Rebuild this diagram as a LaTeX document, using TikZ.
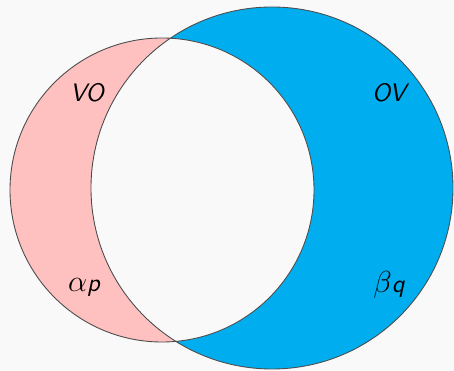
\documentclass[tikz,border=0pt]{standalone}
\usepackage{tikz}

\definecolor{pagebg}{HTML}{F9F9F9}
\definecolor{leftset}{HTML}{FFC0C0}
\definecolor{rightset}{HTML}{00AEEF}

\newcommand{\bigsym}[1]{{\fontsize{17.28}{20}\selectfont$#1$}}

\begin{document}
\begin{tikzpicture}[
  x=0.02cm, y=-0.02cm,
  setline/.style={draw=black!70, line width=0.5pt},
  setname/.style={anchor=base, inner sep=0pt,
    font=\fontsize{14.4}{17}\selectfont\sffamily\itshape}
]
\useasboundingbox (0,0) rectangle (454,371);
\fill[pagebg] (0,0) rectangle (454,371);
\coordinate (lc) at (162,190);
\coordinate (rc) at (272,188);
% the two sets
\fill[leftset] (lc) circle (152);
\fill[rightset] (rc) circle (181);
% overlap left blank
\begin{scope}
  \clip (lc) circle (152);
  \fill[pagebg] (rc) circle (181);
\end{scope}
\draw[setline] (lc) circle (152);
\draw[setline] (rc) circle (181);
\node[setname] (vo) at (87,102) {VO};
\node[setname] (ov) at (389,102) {OV};
\node[setname] (ap) at (84,292) {\bigsym{\alpha}p};
\node[setname] (bq) at (389,293) {\bigsym{\beta}q};
\end{tikzpicture}
\end{document}
